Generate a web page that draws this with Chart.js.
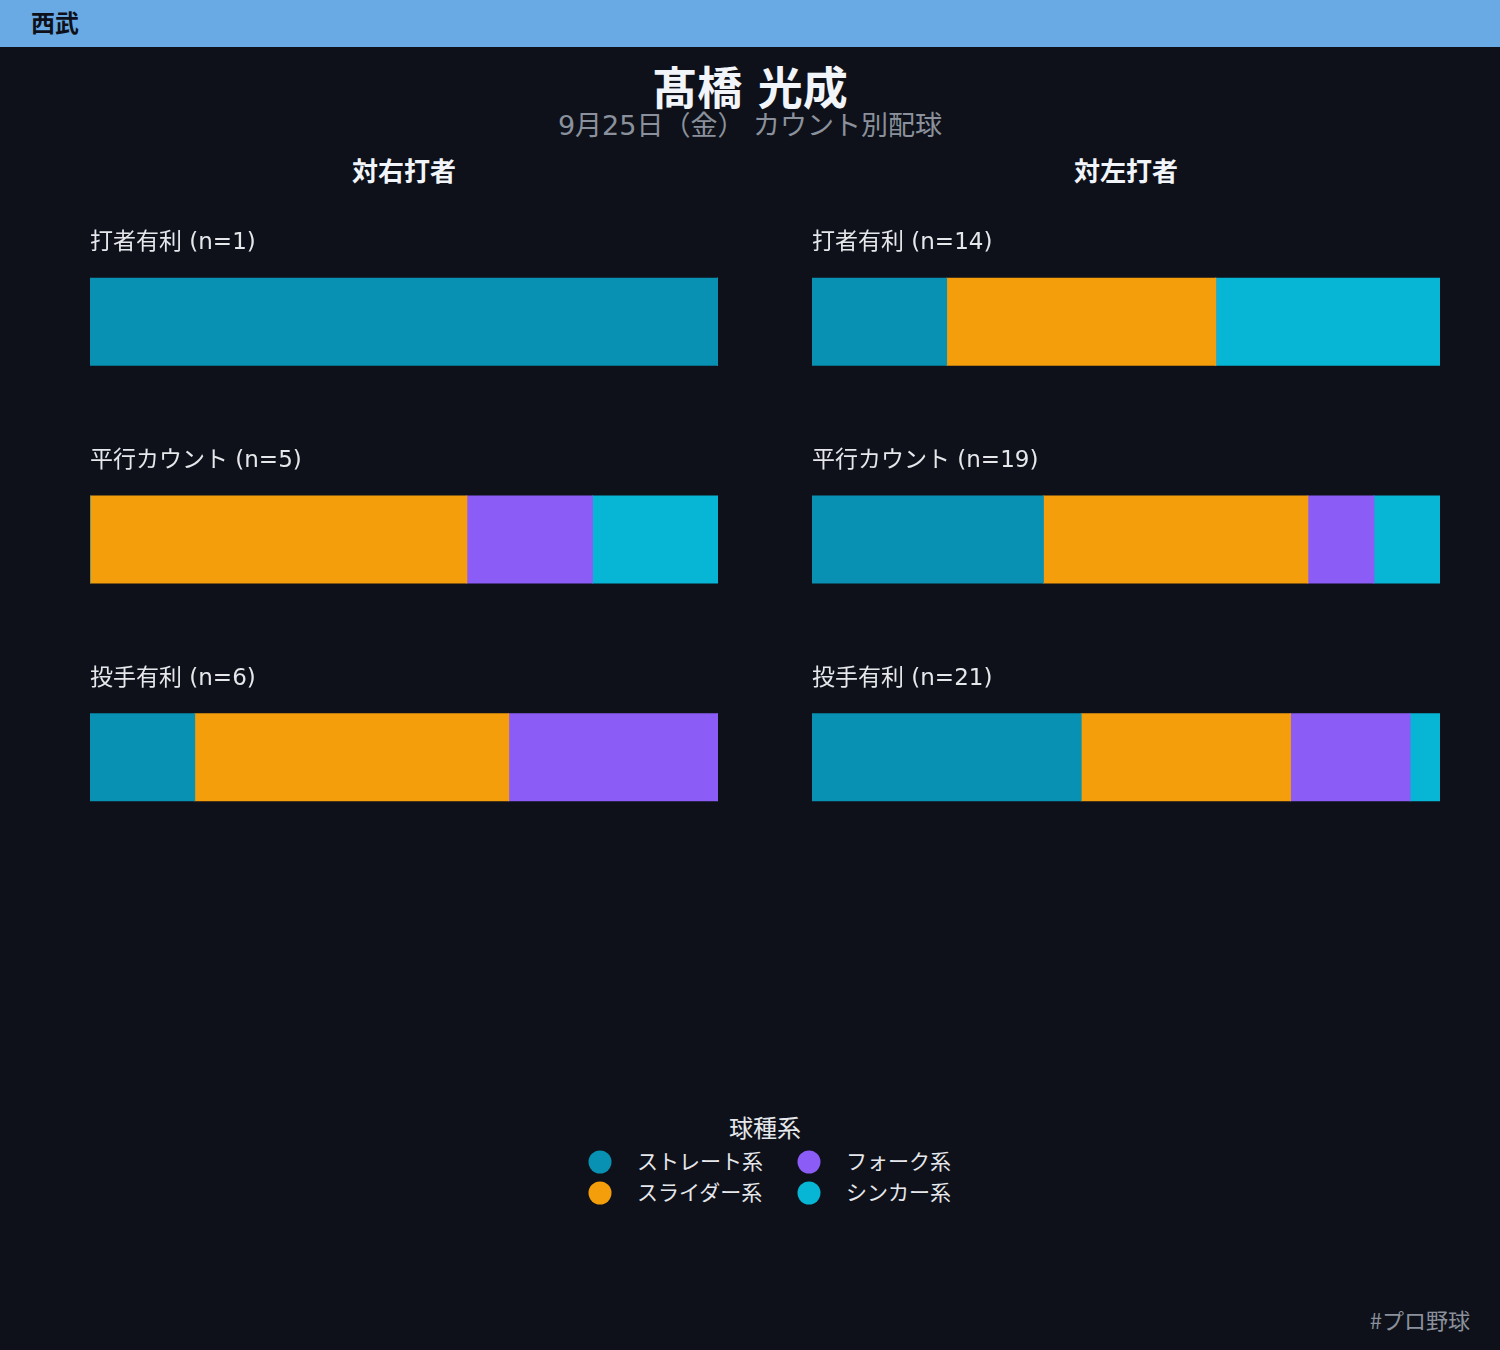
<!DOCTYPE html>
<html>
<head>
<meta charset="utf-8">
<script src="https://cdn.jsdelivr.net/npm/chart.js@4"></script>
<style>
  html, body { margin:0; padding:0; }
  body { width:1500px; height:1350px; background:#0e111a; position:relative; overflow:hidden;
         font-family:"DejaVu Sans","Noto Sans CJK JP",sans-serif; }
  .abs { position:absolute; white-space:nowrap; line-height:1.2; }
  #header { left:0; top:0; width:1500px; height:47px; background:#6aaae4; }
  #team { left:31px; top:24px; transform:translateY(-50%); font-size:24px; font-weight:bold; color:#0e111a; }
  #title { left:0; width:1500px; text-align:center; top:90px; transform:translateY(-50%); font-size:45px; font-weight:bold; color:#f1f5f9; }
  #sub { left:0; width:1500px; text-align:center; top:126px; transform:translateY(-50%); font-size:27px; color:#8b919c; }
  .ptitle { top:173px; transform:translate(-50%,-50%); font-size:26px; font-weight:bold; color:#f1f5f9; }
  canvas { position:absolute; }
  #legendTitle { left:765px; top:1129px; transform:translate(-50%,-50%); font-size:24px; color:#e5e7eb; }
  .lg { font-size:21px; color:#e5e7eb; transform:translateY(-50%); }
  .dot { position:absolute; width:23px; height:23px; border-radius:50%; transform:translate(-50%,-50%); }
  #footer { right:30px; top:1319px; transform:translateY(-50%); font-size:22px; color:#8b919c; font-family:"Noto Sans CJK JP",sans-serif; }
</style>
</head>
<body>
<div id="header" class="abs"></div>
<div id="team" class="abs">西武</div>
<div id="title" class="abs">髙橋 光成</div>
<div id="sub" class="abs">9月25日（金） カウント別配球</div>
<div class="abs ptitle" style="left:404px">対右打者</div>
<div class="abs ptitle" style="left:1126px">対左打者</div>
<canvas id="cR" width="628" height="653" style="left:90px; top:213px; width:628px; height:653px"></canvas>
<canvas id="cL" width="628" height="653" style="left:812px; top:213px; width:628px; height:653px"></canvas>
<div id="legendTitle" class="abs">球種系</div>
<div id="legend"></div>
<div id="footer" class="abs">#プロ野球</div>
<script>
// ---- data ----
const countSituations = ["打者有利", "平行カウント", "投手有利"];
const pitchTypes = ["ストレート系", "スライダー系", "フォーク系", "シンカー系"];
const pitchColors = ["#0891b2", "#f59e0b", "#8b5cf6", "#06b6d4"];

// counts per situation, vs right-handed batters
const rightStraight = [1, 0, 1];
const rightSlider   = [0, 3, 3];
const rightFork     = [0, 1, 2];
const rightSinker   = [0, 1, 0];
const rightTotals   = [1, 5, 6];

// counts per situation, vs left-handed batters
const leftStraight = [3, 7, 9];
const leftSlider   = [6, 8, 7];
const leftFork     = [0, 2, 4];
const leftSinker   = [5, 2, 1];
const leftTotals   = [14, 19, 21];

const labelPlugin = {
  id: 'rowLabels',
  afterDatasetsDraw(chart, args, opts) {
    const ctx = chart.ctx;
    const meta = chart.getDatasetMeta(0);
    ctx.save();
    ctx.font = '23px "DejaVu Sans", "Noto Sans CJK JP", sans-serif';
    ctx.fillStyle = '#e5e7eb';
    ctx.textAlign = 'left';
    ctx.textBaseline = 'middle';
    countSituations.forEach((s, i) => {
      const el = meta.data[i];
      const top = el.y - el.height / 2;
      ctx.fillText(s + ' (n=' + opts.totals[i] + ')', chart.chartArea.left, top - 35);
    });
    ctx.restore();
  }
};

function makeChart(id, series, totals) {
  const datasets = series.map((arr, k) => ({
    label: pitchTypes[k],
    data: arr.map((v, i) => v / totals[i] * 100),
    backgroundColor: pitchColors[k],
    borderWidth: 0,
    inflateAmount: 0.5,
    categoryPercentage: 1.0,
    barPercentage: 0.4
  }));
  new Chart(document.getElementById(id), {
    type: 'bar',
    data: { labels: countSituations, datasets },
    options: {
      indexAxis: 'y',
      responsive: false,
      maintainAspectRatio: false,
      animation: false,
      layout: { padding: 0 },
      scales: {
        x: { stacked: true, min: 0, max: 100, display: false },
        y: { stacked: true, display: false }
      },
      plugins: {
        legend: { display: false },
        tooltip: { enabled: false },
        rowLabels: { totals }
      }
    },
    plugins: [labelPlugin]
  });
}

makeChart('cR', [rightStraight, rightSlider, rightFork, rightSinker], rightTotals);
makeChart('cL', [leftStraight, leftSlider, leftFork, leftSinker], leftTotals);

// legend (2 columns, column-major)
const lg = document.getElementById('legend');
const colX = [600, 809];
const rowY = [1162, 1193];
const order = [[0, 0, 0], [1, 0, 1], [2, 1, 0], [3, 1, 1]];
order.forEach(([k, c, r]) => {
  const d = document.createElement('div');
  d.className = 'dot';
  d.style.left = colX[c] + 'px';
  d.style.top = rowY[r] + 'px';
  d.style.background = pitchColors[k];
  lg.appendChild(d);
  const t = document.createElement('div');
  t.className = 'abs lg';
  t.style.left = (colX[c] + 37) + 'px';
  t.style.top = (rowY[r] + 1) + 'px';
  t.textContent = pitchTypes[k];
  lg.appendChild(t);
});
</script>
</body>
</html>
